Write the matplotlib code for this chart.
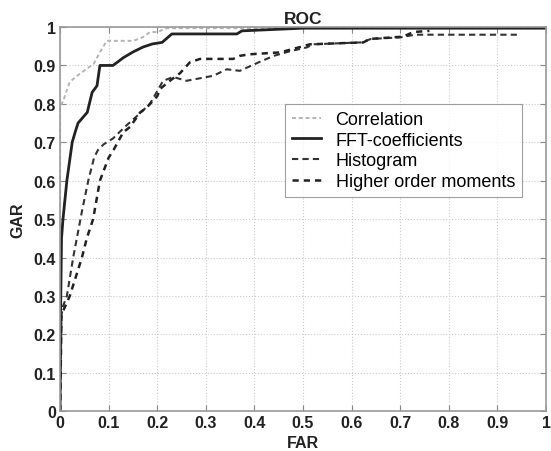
import matplotlib
matplotlib.use("Agg")
import matplotlib.pyplot as plt
import numpy as np

# ROC curves
corr_far = [0, 0, 0.007, 0.02, 0.034, 0.048, 0.069, 0.082, 0.096, 0.151, 0.171, 0.185, 0.2, 0.22, 1.0]
corr_gar = [0, 0.79, 0.81, 0.857, 0.872, 0.885, 0.904, 0.934, 0.964, 0.964, 0.974, 0.987, 0.987, 0.997, 0.997]

fft_far = [0, 0.001, 0.003, 0.006, 0.014, 0.025, 0.031, 0.037, 0.056, 0.066, 0.076, 0.082,
           0.109, 0.13, 0.15, 0.171, 0.19, 0.21, 0.23, 0.364, 0.374, 0.5, 1.0]
fft_gar = [0, 0.25, 0.45, 0.5, 0.6, 0.7, 0.726, 0.75, 0.778, 0.83, 0.847, 0.90,
           0.90, 0.92, 0.935, 0.948, 0.956, 0.96, 0.982, 0.982, 0.99, 0.997, 0.997]

hist_far = [0, 0.003, 0.006, 0.014, 0.027, 0.045, 0.058, 0.07, 0.078, 0.09, 0.109, 0.117, 0.135,
            0.158, 0.185, 0.212, 0.233, 0.26, 0.302, 0.315, 0.343, 0.37, 0.412, 0.44, 0.473,
            0.508, 0.52, 0.62, 0.64, 0.7, 0.73, 0.94]
hist_gar = [0, 0.25, 0.273, 0.3, 0.4, 0.52, 0.6, 0.66, 0.68, 0.695, 0.71, 0.72, 0.742,
            0.768, 0.80, 0.86, 0.87, 0.86, 0.87, 0.873, 0.89, 0.886, 0.91, 0.925, 0.937,
            0.947, 0.955, 0.96, 0.969, 0.973, 0.98, 0.98]

hom_far = [0, 0.003, 0.006, 0.02, 0.045, 0.055, 0.068, 0.082, 0.1, 0.11, 0.13, 0.144, 0.165,
           0.178, 0.2, 0.206, 0.226, 0.247, 0.267, 0.288, 0.356, 0.37, 0.39, 0.453, 0.5,
           0.514, 0.624, 0.638, 0.706, 0.727, 0.76]
hom_gar = [0, 0.25, 0.26, 0.3, 0.4, 0.45, 0.5, 0.6, 0.66, 0.68, 0.726, 0.74, 0.778,
           0.79, 0.82, 0.839, 0.86, 0.88, 0.908, 0.917, 0.917, 0.925, 0.929, 0.934, 0.95,
           0.955, 0.96, 0.969, 0.975, 0.987, 0.99]

ticks = np.round(np.arange(0, 1.01, 0.1), 1)
tick_labels = ["0", "0.1", "0.2", "0.3", "0.4", "0.5", "0.6", "0.7", "0.8", "0.9", "1"]

plt.rcParams["font.family"] = ["Liberation Sans", "DejaVu Sans"]
plt.rcParams["font.weight"] = "bold"

fig = plt.figure(figsize=(5.51, 4.52), dpi=100)
ax = fig.add_axes([0.109, 0.088, 0.882, 0.85])

ax.plot(corr_far, corr_gar, color="#b4b4b4", lw=1.4, ls=(0, (2, 1.5)), label="Correlation")
ax.plot(fft_far, fft_gar, color="#222222", lw=2.0, ls="-", label="FFT-coefficients")
ax.plot(hist_far, hist_gar, color="#333333", lw=1.5, ls=(0, (3, 2)), label="Histogram")
ax.plot(hom_far, hom_gar, color="#222222", lw=1.8, ls=(0, (2.5, 2)), label="Higher order moments")

ax.set_xlim(0, 1)
ax.set_ylim(0, 1)
ax.set_xticks(ticks)
ax.set_xticklabels(tick_labels)
ax.set_yticks(ticks)
ax.set_yticklabels(tick_labels)
ax.tick_params(direction="in", top=True, right=True, labelsize=11.5, color="#888888", length=4,
               labelcolor="#222222", pad=3)
ax.grid(True, color="#cccccc", ls=":", lw=0.8)
for s in ax.spines.values():
    s.set_color("#999999")
    s.set_linewidth(1.2)

ax.set_title("ROC", fontsize=12.5, fontweight="bold", color="#222222", pad=3)
ax.set_xlabel("FAR", fontsize=11.5, fontweight="bold", color="#222222", labelpad=3)
ax.set_ylabel("GAR", fontsize=11.5, fontweight="bold", color="#222222", labelpad=6)

leg = ax.legend(loc="upper left", bbox_to_anchor=(0.463, 0.80), fontsize=13, frameon=True,
                fancybox=False, edgecolor="#888888", handlelength=1.6, borderpad=0.4,
                labelspacing=0.2, handletextpad=0.8, borderaxespad=0)
leg.get_frame().set_linewidth(0.8)
for t in leg.get_texts():
    t.set_fontweight("normal")

fig.savefig("out.png", dpi=100)
